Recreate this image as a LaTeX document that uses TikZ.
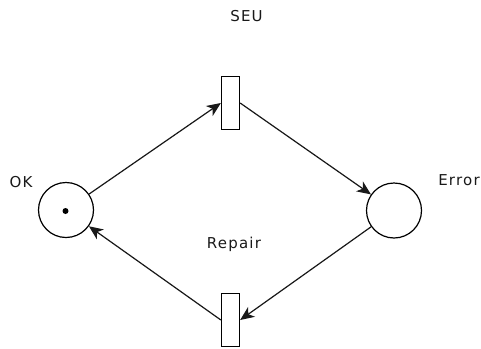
\documentclass[tikz,border=0pt]{standalone}
\usepackage{fontspec}
\setmainfont{DejaVu Sans}
\usetikzlibrary{arrows.meta}
\begin{document}
\begin{tikzpicture}[x=1pt,y=-1pt,
  place/.style={draw, circle, minimum size=55pt, inner sep=0pt, line width=1.2pt},
  transition/.style={draw, rectangle, minimum width=18pt, minimum height=53pt, inner sep=0pt, line width=1.3pt},
  arc/.style={-{Stealth[length=14pt,width=12pt,inset=4pt]}, line width=1.2pt, draw=black!90, fill=black},
  lbl/.style={font=\fontsize{15}{18}\selectfont\addfontfeatures{LetterSpace=8}, inner sep=0pt, anchor=base, text=black!90},
  token/.style={fill, circle, minimum size=6pt, inner sep=0pt}]
\useasboundingbox (0,0) rectangle (481,348);
% places
\node[place] (ok) at (66,210) {};
\node[token] (tok) at (65.5,211) {};
\node[place] (err) at (394,210.5) {};
% transitions
\node[transition] (seu) at (230.5,103) {};
\node[transition] (rep) at (230.5,320) {};
% labels
\node[lbl] (lok) at (21,187) {OK};
\node[lbl] (lerr) at (459,185) {Error};
\node[lbl] (lseu) at (246.5,21) {SEU};
\node[lbl] (lrep) at (234,248) {Repair};
% arcs
\draw[arc] (ok) -- (seu.west);
\draw[arc] (seu.east) -- (err);
\draw[arc] (err) -- (rep.east);
\draw[arc] (rep.west) -- (ok);
\end{tikzpicture}
\end{document}
